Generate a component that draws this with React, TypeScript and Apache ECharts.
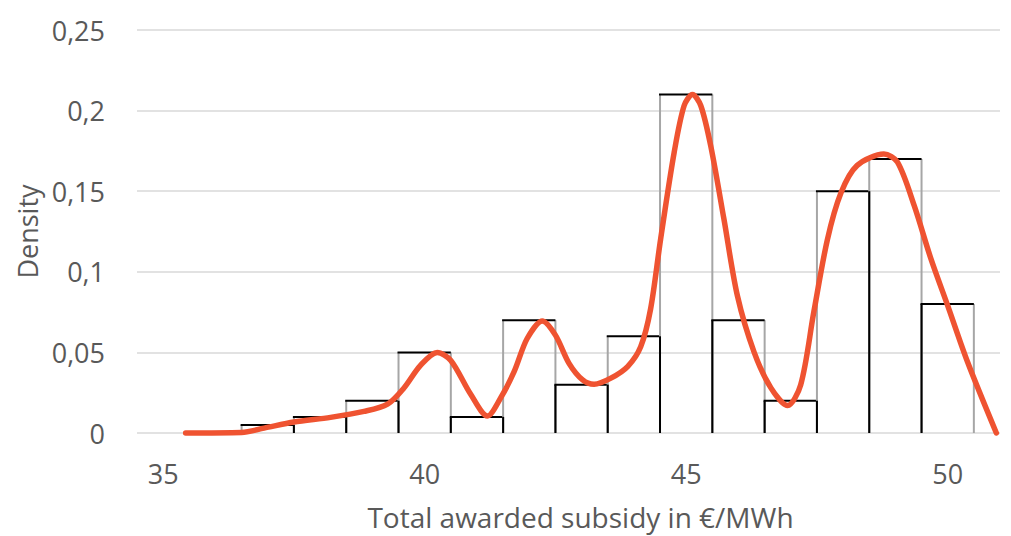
import React, { useEffect, useRef } from "react";
import * as echarts from "echarts";

// Histogram bins (centre of each 1 €/MWh bin) and their densities
const binCenters = [37, 38, 39, 40, 41, 42, 43, 44, 45, 46, 47, 48, 49, 50];
const binDensity = [0.005, 0.01, 0.02, 0.05, 0.01, 0.07, 0.03, 0.06, 0.21, 0.07, 0.02, 0.15, 0.17, 0.08];

// Kernel density curve
const curveX = [
  35.43, 36.5, 36.93, 37.5, 38.2, 38.84, 39.29, 39.6, 39.92, 40.24, 40.5, 40.88, 41.2, 41.45, 41.71,
  41.96, 42.25, 42.5, 42.76, 43.02, 43.24, 43.56, 43.88, 44.13, 44.32, 44.51, 44.77, 44.96, 45.12,
  45.28, 45.47, 45.72, 45.98, 46.3, 46.62, 46.94, 47.19, 47.44, 47.7, 47.96, 48.27, 48.78, 49.04,
  49.36, 49.68, 50.0, 50.38, 50.93,
];
const curveY = [
  0, 0.0003, 0.003, 0.0068, 0.0097, 0.0134, 0.0179, 0.0278, 0.042, 0.05, 0.045, 0.024, 0.0105, 0.0216,
  0.038, 0.0586, 0.0695, 0.0607, 0.0432, 0.0329, 0.0302, 0.034, 0.0412, 0.0535, 0.077, 0.12, 0.174,
  0.203, 0.21, 0.203, 0.178, 0.133, 0.085, 0.05, 0.028, 0.017, 0.03, 0.075, 0.12, 0.149, 0.166, 0.173,
  0.168, 0.141, 0.108, 0.079, 0.044, 0,
];

const xTickValues = [35, 40, 45, 50];
const yMin = 0;
const yMax = 0.25;
const yStep = 0.05;

const FONT = "'Open Sans', 'Noto Sans', sans-serif";
const TEXT_COLOR = "#595959";

export default function App() {
  const ref = useRef<HTMLDivElement>(null);

  useEffect(() => {
    if (!ref.current) return;
    const chart = echarts.init(ref.current, null, { renderer: "svg" });

    const histData = binCenters.map((c, i) => [c, binDensity[i]]);
    const curveData = curveX.map((x, i) => [x, curveY[i]]);

    chart.setOption({
      animation: false,
      backgroundColor: "#ffffff",
      grid: { left: 137, right: 11, top: 30, bottom: 101, containLabel: false },
      xAxis: {
        type: "value",
        min: 34.5,
        max: 51,
        name: "Total awarded subsidy in €/MWh",
        nameLocation: "middle",
        nameGap: 70,
        nameTextStyle: {
          fontFamily: FONT,
          fontSize: 28,
          color: TEXT_COLOR,
          padding: [0, 0, 0, 24],
        },
        axisLine: { show: false },
        axisTick: { show: false },
        splitLine: { show: false },
        axisLabel: {
          customValues: xTickValues,
          fontFamily: FONT,
          fontSize: 27,
          color: TEXT_COLOR,
          margin: 27,
        },
      },
      yAxis: {
        type: "value",
        min: yMin,
        max: yMax,
        interval: yStep,
        name: "Density",
        nameLocation: "middle",
        nameRotate: 90,
        nameGap: 96,
        nameTextStyle: { fontFamily: FONT, fontSize: 27, color: TEXT_COLOR },
        axisLine: { show: false },
        axisTick: { show: false },
        splitLine: { show: true, lineStyle: { color: "#d9d9d9", width: 1.5 } },
        axisLabel: {
          fontFamily: FONT,
          fontSize: 27,
          color: TEXT_COLOR,
          margin: 32,
          formatter: (v: number) => String(Math.round(v * 100) / 100).replace(".", ","),
        },
      },
      series: [
        {
          type: "custom",
          data: histData,
          encode: { x: 0, y: 1 },
          renderItem: (params: any, api: any) => {
            const i = params.dataIndex;
            const x = api.value(0);
            const h = api.value(1);
            const prev = i > 0 ? binDensity[i - 1] : 0;
            const [x0, y0] = api.coord([x - 0.5, 0]);
            const [x1, yTop] = api.coord([x + 0.5, h]);
            const yShared = api.coord([x, Math.min(h, prev)])[1];
            return {
              type: "group",
              children: [
                { type: "line", shape: { x1: x0, y1: y0, x2: x0, y2: yTop }, style: { stroke: "#a6a6a6", lineWidth: 2 } },
                { type: "line", shape: { x1: x1, y1: y0, x2: x1, y2: yTop }, style: { stroke: "#a6a6a6", lineWidth: 2 } },
                { type: "line", shape: { x1: x0, y1: y0, x2: x0, y2: yShared }, style: { stroke: "#000000", lineWidth: 2 } },
                { type: "line", shape: { x1: x0 - 1, y1: yTop, x2: x1, y2: yTop }, style: { stroke: "#000000", lineWidth: 2 } },
              ],
            };
          },
        },
        {
          type: "line",
          data: curveData,
          smooth: 0.3,
          showSymbol: false,
          symbol: "none",
          clip: false,
          lineStyle: { color: "#EF5331", width: 5.5, cap: "round" },
          z: 5,
        },
      ],
    });

    return () => chart.dispose();
  }, []);

  return (
    <div
      ref={ref}
      style={{ position: "absolute", left: 0, top: 0, width: 1011, height: 536 }}
    />
  );
}
